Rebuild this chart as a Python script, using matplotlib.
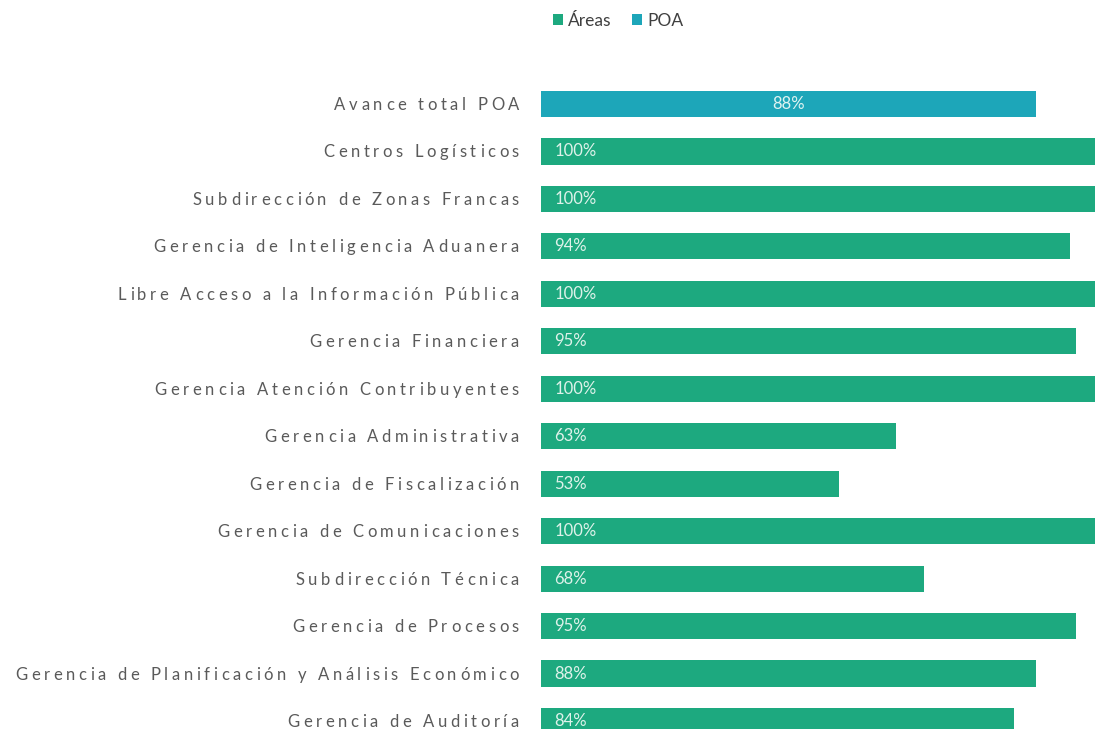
import matplotlib
matplotlib.use("Agg")
import matplotlib.pyplot as plt
from matplotlib.font_manager import FontProperties
from matplotlib.transforms import IdentityTransform

# data (top to bottom)
categories = [
    "Avance total POA",
    "Centros Logísticos",
    "Subdirección de Zonas Francas",
    "Gerencia de Inteligencia Aduanera",
    "Libre Acceso a la Información Pública",
    "Gerencia Financiera",
    "Gerencia Atención Contribuyentes",
    "Gerencia Administrativa",
    "Gerencia de Fiscalización",
    "Gerencia de Comunicaciones",
    "Subdirección Técnica",
    "Gerencia de Procesos",
    "Gerencia de Planificación y Análisis Económico",
    "Gerencia de Auditoría",
]
values = [88, 100, 100, 94, 100, 95, 100, 63, 53, 100, 68, 95, 88, 84]
series = ["POA"] + ["Áreas"] * 13

W, H, DPI = 1095, 729, 100
GREEN = "#1DA97F"
BLUE = "#1DA6B9"
LABEL_GRAY = "#5a5a5a"

fig = plt.figure(figsize=(W / DPI, H / DPI), dpi=DPI)
fig.patch.set_facecolor("white")

# axes placed in pixels; 100% runs a little past the right edge like the source
row_h = 47.46
top = 104 - row_h / 2
n = len(categories)
bottom = top + n * row_h
ax = fig.add_axes([541 / W, (H - bottom) / H, 563 / W, (bottom - top) / H])

area_idx = [i for i, s in enumerate(series) if s == "Áreas"]
poa_idx = [i for i, s in enumerate(series) if s == "POA"]
ax.barh(area_idx, [values[i] for i in area_idx], height=0.55, color=GREEN,
        label="Áreas")
ax.barh(poa_idx, [values[i] for i in poa_idx], height=0.55, color=BLUE,
        label="POA")
ax.set_xlim(0, 100)
ax.set_ylim(n - 0.5, -0.5)
ax.axis("off")

# value labels: POA centred, areas at the left inside the bar
for i, v in enumerate(values):
    if series[i] == "POA":
        ax.text(v / 2, i, f"{v}%", ha="center", va="center", fontsize=12,
                color="#dff3f1", family="Lato")
    else:
        ax.text(2.4, i, f"{v}%", ha="left", va="center", fontsize=12,
                color="#def2ea", family="Lato")

# category labels with letter spacing, drawn char by char
renderer = fig.canvas.get_renderer()
prop = FontProperties(family="Lato", size=12)
size_px = 12 * DPI / 72
track = 3.6


def text_w(s):
    return renderer.get_text_width_height_descent(s, prop, ismath=False)[0]


ref_w = text_w("x")
for i, s in enumerate(categories):
    y_disp = ax.transData.transform((0, i))[1]
    base = y_disp - 0.36 * size_px
    offs = [text_w(s[:k] + "x") - ref_w + k * track for k in range(len(s))]
    total = text_w(s) + (len(s) - 1) * track
    x0 = 519 - total
    for ch, off in zip(s, offs):
        if ch == " ":
            continue
        fig.text(x0 + off, base, ch, transform=IdentityTransform(),
                 ha="left", va="baseline", fontproperties=prop,
                 color=LABEL_GRAY)

handles, labels = ax.get_legend_handles_labels()
fig.legend(handles, labels, loc="center", bbox_to_anchor=(618 / W, 1 - 21 / H),
           ncol=2, frameon=False, handlelength=0.6, handleheight=0.6,
           columnspacing=1.15, handletextpad=0.3,
           prop=FontProperties(family="Lato", size=12.5), labelcolor="#404040")

fig.savefig("out.png", dpi=DPI)
